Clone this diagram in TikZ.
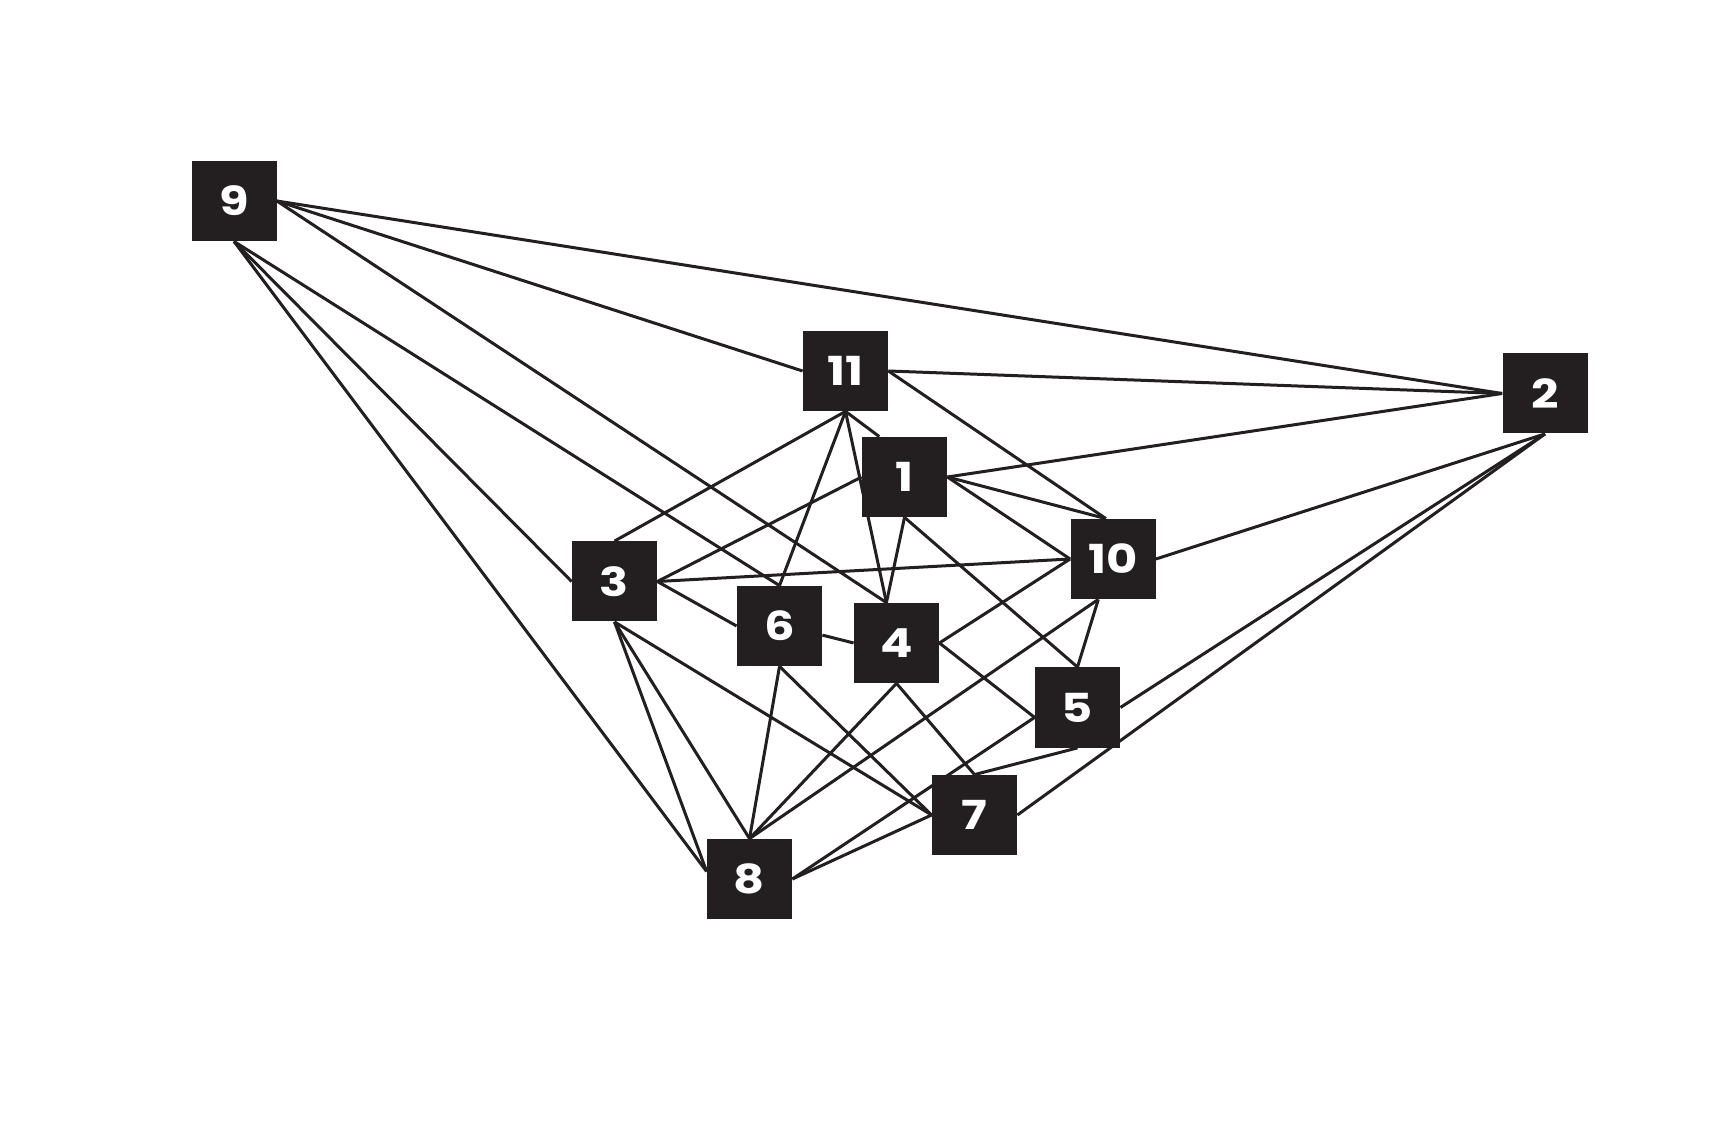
\documentclass[tikz,border=0pt]{standalone}
\usepackage{fontspec}
\newfontfamily\numfont{Poppins}[FakeStretch=1.2]
\definecolor{mInk}{HTML}{231F20}
\usetikzlibrary{backgrounds}

\begin{document}
\begin{tikzpicture}[x=0.5pt, y=-0.5pt,
		box/.style={rectangle, fill=mInk, text=white, inner sep=0pt,
			minimum width=42.5pt, minimum height=40pt,
			font=\numfont\bfseries\fontsize{20}{20}\selectfont},
		link/.style={draw=mInk, line width=1.5pt}]
		%-------------------------------------------------------------------------------
		% canvas
		%-------------------------------------------------------------------------------
		\useasboundingbox (0,0) rectangle (1734,1143);
		
		% boxes
		\node[box] (n9) at (234,201) {9};
		\node[box] (n11) at (845.5,371) {11};
		\node[box] (n2) at (1545,393.5) {2};
		\node[box] (n1) at (904.5,477) {1};
		\node[box] (n10) at (1113,559) {10};
		\node[box] (n3) at (614.5,581.5) {3};
		\node[box] (n6) at (779.5,626) {6};
		\node[box] (n4) at (896.5,643) {4};
		\node[box] (n5) at (1077.5,707.5) {5};
		\node[box] (n7) at (974.5,815) {7};
		\node[box] (n8) at (749.5,879) {8};
		
		\begin{scope}[on background layer]
		\fill[white] (0,0) rectangle (1734,1143);
		% from 9
		\draw (n9.east) edge[link] (n2.west);
		\draw (n9.east) edge[link] (n11.west);
		\draw (n9.east) edge[link] (n4.104);
		\draw (n9.south) edge[link] (n6.north);
		\draw (n9.south) edge[link] (n3.west);
		\draw (n9.south) edge[link] (n8.170);
		% from 11
		\draw (n11.east) edge[link] (n2.west);
		\draw (n11.east) edge[link] (n10.100);
		\draw (n11.south) edge[link] (n3.north);
		\draw (n11.south) edge[link] (n6.north);
		\draw (n11.south) edge[link] (n4.104);
		\draw (n11.south) edge[link] (n1.122);
		% from 1
		\draw (n1.east) edge[link] (n2.west);
		\draw (n1.east) edge[link] (n10.100);
		\draw (n1.east) edge[link] (n10.west);
		\draw (n1.west) edge[link] (n3.east);
		\draw (n1.south) edge[link] (n4.104);
		\draw (n1.south) edge[link] (n5.north);
		% from 3
		\draw (n3.east) edge[link] (n10.west);
		\draw (n3.east) edge[link] (n6.west);
		\draw (n3.south) edge[link] (n8.170);
		\draw (n3.south) edge[link] (n8.north);
		\draw (n3.south) edge[link] (n7.west);
		% from 6 and 4
		\draw (n6.348) edge[link] (n4.west);
		\draw (n6.south) edge[link] (n8.north);
		\draw (n6.south) edge[link] (n7.west);
		\draw (n4.east) edge[link] (n10.west);
		\draw (n4.east) edge[link] (n5.193);
		\draw (n4.south) edge[link] (n8.north);
		\draw (n4.south) edge[link] (n7.north);
		% from 10, 5 and 7
		\draw (n10.east) edge[link] (n2.south);
		\draw (n10.250) edge[link] (n8.north);
		\draw (n10.250) edge[link] (n5.north);
		\draw (n5.east) edge[link] (n2.south);
		\draw (n5.193) edge[link] (n8.east);
		\draw (n5.south) edge[link] (n7.north);
		\draw (n7.east) edge[link] (n2.south);
		\draw (n7.west) edge[link] (n8.east);
		\end{scope}
\end{tikzpicture}
\end{document}
